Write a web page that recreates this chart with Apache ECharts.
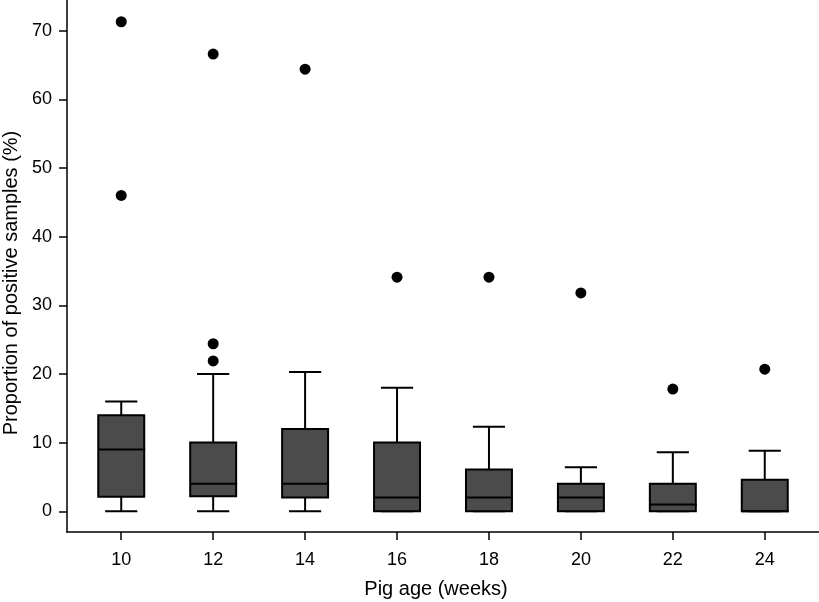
<!DOCTYPE html>
<html>
<head>
<meta charset="utf-8">
<script src="https://cdn.jsdelivr.net/npm/echarts@6/dist/echarts.min.js"></script>
<style>
html,body{margin:0;padding:0;background:#fff;}
#chart{width:819px;height:602px;}
</style>
</head>
<body>
<div id="chart"></div>
<script>
// Pig age categories (weeks)
const ages = [10, 12, 14, 16, 18, 20, 22, 24];
// Box statistics (% positive samples)
const whiskerLow  = [0, 0, 0, 0, 0, 0, 0, 0];
const q1          = [2.1, 2.2, 2, 0, 0, 0, 0, 0];
const median      = [9, 4, 4, 2, 2, 2, 1, 0];
const q3          = [14, 10, 12, 10, 6.1, 4, 4, 4.6];
const whiskerHigh = [16, 20, 20.3, 18, 12.3, 6.4, 8.6, 8.8];
// Outliers: [age, value]
const outlierAges   = [10, 10, 12, 12, 12, 14, 16, 18, 20, 22, 24];
const outlierValues = [71.3, 46, 66.6, 24.4, 21.9, 64.4, 34.1, 34.1, 31.8, 17.8, 20.7];
// Tick labels
const xTicks = [10, 12, 14, 16, 18, 20, 22, 24];
const yTicks = [0, 10, 20, 30, 40, 50, 60, 70];

const boxData = ages.map((a, i) => [a, whiskerLow[i], q1[i], median[i], q3[i], whiskerHigh[i]]);
const outlierData = outlierAges.map((a, i) => [a, outlierValues[i]]);

const font = '"Liberation Sans", Arial, Helvetica, sans-serif';
const chart = echarts.init(document.getElementById('chart'), null, {renderer: 'canvas'});

function renderBox(params, api) {
  const x = api.value(0);
  const lo = api.value(1), b1 = api.value(2), md = api.value(3), b3 = api.value(4), hi = api.value(5);
  const pLo = api.coord([x, lo]);
  const pQ1 = api.coord([x, b1]);
  const pMd = api.coord([x, md]);
  const pQ3 = api.coord([x, b3]);
  const pHi = api.coord([x, hi]);
  const boxL = api.coord([x - 0.5, md])[0];
  const boxR = api.coord([x + 0.5, md])[0];
  const capL = api.coord([x - 0.35, md])[0];
  const capR = api.coord([x + 0.35, md])[0];
  const cx = pMd[0];
  const lineStyle = {stroke: '#000', lineWidth: 2, fill: null};
  return {
    type: 'group',
    children: [
      {type: 'line', shape: {x1: cx, y1: pQ3[1], x2: cx, y2: pHi[1]}, style: lineStyle},
      {type: 'line', shape: {x1: capL, y1: pHi[1], x2: capR, y2: pHi[1]}, style: lineStyle},
      {type: 'line', shape: {x1: cx, y1: pQ1[1], x2: cx, y2: pLo[1]}, style: lineStyle},
      {type: 'line', shape: {x1: capL, y1: pLo[1], x2: capR, y2: pLo[1]}, style: lineStyle},
      {type: 'rect', shape: {x: boxL, y: pQ3[1], width: boxR - boxL, height: pQ1[1] - pQ3[1]},
        style: {fill: '#4b4b4b', stroke: '#000', lineWidth: 2}},
      {type: 'line', shape: {x1: boxL, y1: pMd[1], x2: boxR + 1, y2: pMd[1]}, style: lineStyle}
    ]
  };
}

const option = {
  backgroundColor: '#ffffff',
  animation: false,
  grid: {left: 67, right: 0, top: 0, bottom: 70, containLabel: false, outerBoundsMode: 'none'},
  xAxis: {
    type: 'value',
    min: 8.82, max: 25.18,
    name: 'Pig age (weeks)',
    nameLocation: 'middle',
    nameGap: 47,
    nameTextStyle: {fontFamily: font, fontSize: 20, color: '#000', padding: [0, 14, 0, 0]},
    axisLine: {show: true, onZero: false, lineStyle: {color: '#000', width: 1.5}},
    axisTick: {show: true, length: 8, customValues: xTicks, lineStyle: {color: '#000', width: 1.5}},
    axisLabel: {customValues: xTicks, fontFamily: font, fontSize: 18, color: '#000', margin: 19},
    splitLine: {show: false}
  },
  yAxis: {
    type: 'value',
    min: -3.02, max: 74.47,
    name: 'Proportion of positive samples (%)',
    nameLocation: 'middle',
    nameGap: 44,
    nameTextStyle: {fontFamily: font, fontSize: 20, color: '#000', padding: [0, 34, 0, 0]},
    axisLine: {show: true, onZero: false, lineStyle: {color: '#000', width: 1.5}},
    axisTick: {show: true, length: 8, customValues: yTicks, lineStyle: {color: '#000', width: 1.5}},
    axisLabel: {customValues: yTicks, fontFamily: font, fontSize: 18, color: '#000', margin: 15},
    splitLine: {show: false}
  },
  series: [
    {
      type: 'custom',
      name: 'box',
      renderItem: renderBox,
      encode: {x: 0, y: [1, 2, 3, 4, 5]},
      data: boxData,
      clip: false
    },
    {
      type: 'scatter',
      name: 'outliers',
      symbol: 'circle',
      symbolSize: 11,
      itemStyle: {color: '#000', opacity: 1},
      data: outlierData
    }
  ]
};
chart.setOption(option);
</script>
</body>
</html>
